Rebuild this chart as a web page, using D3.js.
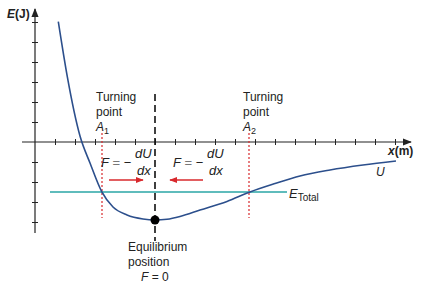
<!DOCTYPE html>
<html>
<head>
<meta charset="utf-8">
<script src="https://cdn.jsdelivr.net/npm/d3@7"></script>
<style>
  body { margin: 0; background: #fff; }
  svg { display: block; font-family: "Liberation Sans", Arial, sans-serif; }
  .tick text { display: none; }
  .domain { display: none; }
</style>
</head>
<body>
<svg id="chart" width="424" height="284"></svg>
<script>
// potential energy curve U(x)
const curveX = [1.165, 1.615, 2.25, 2.75, 3.335, 3.9, 4.6, 5.4, 6, 6.6, 7.25, 8.25, 9.6, 10.75, 12, 13.25, 14.75, 16.4, 18.05];
const curveU = [6.02, 3.27, 0.3, -1.05, -2.48, -3.25, -3.65, -3.85, -3.9, -3.86, -3.72, -3.4, -2.97, -2.5, -2.08, -1.7, -1.4, -1.15, -0.95];

const xTicks = d3.range(1, 19);
const yTicks = [-4, -3, -2, -1, 1, 2, 3, 4, 5, 6];

const eTotal = -2.5;
const eTotalRange = [0.75, 12.6];
const turningPoints = [3.35, 10.7];
const turningLabels = ["1", "2"];
const equilibrium = { x: 6, u: -3.9 };

const svg = d3.select("#chart");

const x = d3.scaleLinear().domain([0, 1]).range([35, 55]);
const y = d3.scaleLinear().domain([0, 1]).range([142, 122]);

const ink = "#222";
const blue = "#2c4f8c";
const teal = "#2aa6a6";
const red = "#d8282c";

// axes
svg.append("defs").append("marker")
    .attr("id", "arr")
    .attr("viewBox", "0 0 10 10")
    .attr("refX", 9).attr("refY", 5)
    .attr("markerWidth", 9).attr("markerHeight", 9)
    .attr("markerUnits", "userSpaceOnUse")
    .attr("orient", "auto")
    .append("path").attr("d", "M0,1 L10,5 L0,9 Z").attr("fill", ink);

svg.append("line")
    .attr("x1", x(-0.65)).attr("x2", x(18.8))
    .attr("y1", y(0)).attr("y2", y(0))
    .attr("stroke", ink).attr("stroke-width", 1.2)
    .attr("marker-end", "url(#arr)");

svg.append("line")
    .attr("x1", x(0)).attr("x2", x(0))
    .attr("y1", y(-4.55)).attr("y2", y(6.65))
    .attr("stroke", ink).attr("stroke-width", 1.2)
    .attr("marker-end", "url(#arr)");

let xAxis = svg.append("g")
    .attr("transform", `translate(0,${y(0)})`)
    .call(d3.axisBottom(x).tickValues(xTicks).tickSize(3));
xAxis.selectAll(".tick line").attr("y1", -3).attr("y2", 3).attr("stroke", ink);

let yAxis = svg.append("g")
    .attr("transform", `translate(${x(0)},0)`)
    .call(d3.axisLeft(y).tickValues(yTicks).tickSize(3));
yAxis.selectAll(".tick line").attr("x1", -3).attr("x2", 3).attr("stroke", ink);

// axis labels
let ey = svg.append("text").attr("x", 7).attr("y", 18)
    .attr("font-size", 12).attr("font-weight", "bold").attr("fill", ink);
ey.append("tspan").attr("font-style", "italic").text("E");
ey.append("tspan").text("(J)");

let xl = svg.append("text").attr("x", 388).attr("y", 155)
    .attr("font-size", 12).attr("font-weight", "bold").attr("fill", ink);
xl.append("tspan").attr("font-style", "italic").text("x");
xl.append("tspan").text("(m)");

// E total line
svg.append("line")
    .attr("x1", x(eTotalRange[0])).attr("x2", x(eTotalRange[1]))
    .attr("y1", y(eTotal)).attr("y2", y(eTotal))
    .attr("stroke", teal).attr("stroke-width", 1.6);

let et = svg.append("text").attr("x", 289).attr("y", 198)
    .attr("font-size", 13).attr("fill", ink);
et.append("tspan").attr("font-style", "italic").text("E");
et.append("tspan").attr("font-size", 10).attr("dy", 3).text("Total");

// turning point dotted lines
turningPoints.forEach((tp, i) => {
    svg.append("line")
        .attr("x1", x(tp)).attr("x2", x(tp))
        .attr("y1", y(0.45)).attr("y2", y(-3.8))
        .attr("stroke", red).attr("stroke-width", 1.2)
        .attr("stroke-dasharray", "2,2");

    let lx = x(tp) - 6;
    svg.append("text").attr("x", lx).attr("y", 101)
        .attr("font-size", 12).attr("fill", ink).text("Turning");
    svg.append("text").attr("x", lx).attr("y", 116)
        .attr("font-size", 12).attr("fill", ink).text("point");
    let a = svg.append("text").attr("x", lx).attr("y", 131)
        .attr("font-size", 12).attr("fill", ink);
    a.append("tspan").attr("font-style", "italic").text("A");
    a.append("tspan").attr("font-size", 9).attr("dy", 3).text(turningLabels[i]);
});

// equilibrium dashed line
svg.append("line")
    .attr("x1", x(equilibrium.x)).attr("x2", x(equilibrium.x))
    .attr("y1", y(2.4)).attr("y2", y(-4.95))
    .attr("stroke", "#111").attr("stroke-width", 1.6)
    .attr("stroke-dasharray", "7,4");

// curve U
let line = d3.line()
    .x((d, i) => x(curveX[i]))
    .y((d) => y(d))
    .curve(d3.curveMonotoneX);

svg.append("path")
    .attr("d", line(curveU))
    .attr("fill", "none")
    .attr("stroke", blue)
    .attr("stroke-width", 1.6);

svg.append("text").attr("x", 376).attr("y", 176)
    .attr("font-size", 12).attr("font-style", "italic").attr("fill", ink).text("U");

svg.append("circle")
    .attr("cx", x(equilibrium.x)).attr("cy", y(equilibrium.u))
    .attr("r", 4.5).attr("fill", "#000");

// force formulas
function formula(x0) {
    let t = svg.append("text").attr("x", x0).attr("y", 167)
        .attr("font-size", 13).attr("fill", ink);
    t.append("tspan").attr("font-style", "italic").text("F");
    t.append("tspan").attr("fill", "#777").text(" = ");
    t.append("tspan").text("\u2212");
    svg.append("text").attr("x", x0 + 34).attr("y", 158)
        .attr("font-size", 13).attr("font-style", "italic").attr("fill", ink).text("dU");
    svg.append("text").attr("x", x0 + 36).attr("y", 175)
        .attr("font-size", 13).attr("font-style", "italic").attr("fill", ink).text("dx");
}
formula(101);
formula(173);

// force arrows
svg.append("defs").append("marker")
    .attr("id", "redarr")
    .attr("viewBox", "0 0 10 10")
    .attr("refX", 9).attr("refY", 5)
    .attr("markerWidth", 8).attr("markerHeight", 8)
    .attr("markerUnits", "userSpaceOnUse")
    .attr("orient", "auto")
    .append("path").attr("d", "M0,1 L10,5 L0,9 Z").attr("fill", red);

svg.append("line")
    .attr("x1", 109).attr("x2", 143).attr("y1", 180).attr("y2", 180)
    .attr("stroke", red).attr("stroke-width", 1.4)
    .attr("marker-end", "url(#redarr)");
svg.append("line")
    .attr("x1", 203).attr("x2", 170).attr("y1", 180).attr("y2", 180)
    .attr("stroke", red).attr("stroke-width", 1.4)
    .attr("marker-end", "url(#redarr)");

// equilibrium labels
svg.append("text").attr("x", 128).attr("y", 251)
    .attr("font-size", 12).attr("fill", ink).text("Equilibrium");
svg.append("text").attr("x", 128).attr("y", 266)
    .attr("font-size", 12).attr("fill", ink).text("position");
let f0 = svg.append("text").attr("x", 141).attr("y", 281)
    .attr("font-size", 12).attr("fill", ink);
f0.append("tspan").attr("font-style", "italic").text("F");
f0.append("tspan").text(" = 0");
</script>
</body>
</html>
